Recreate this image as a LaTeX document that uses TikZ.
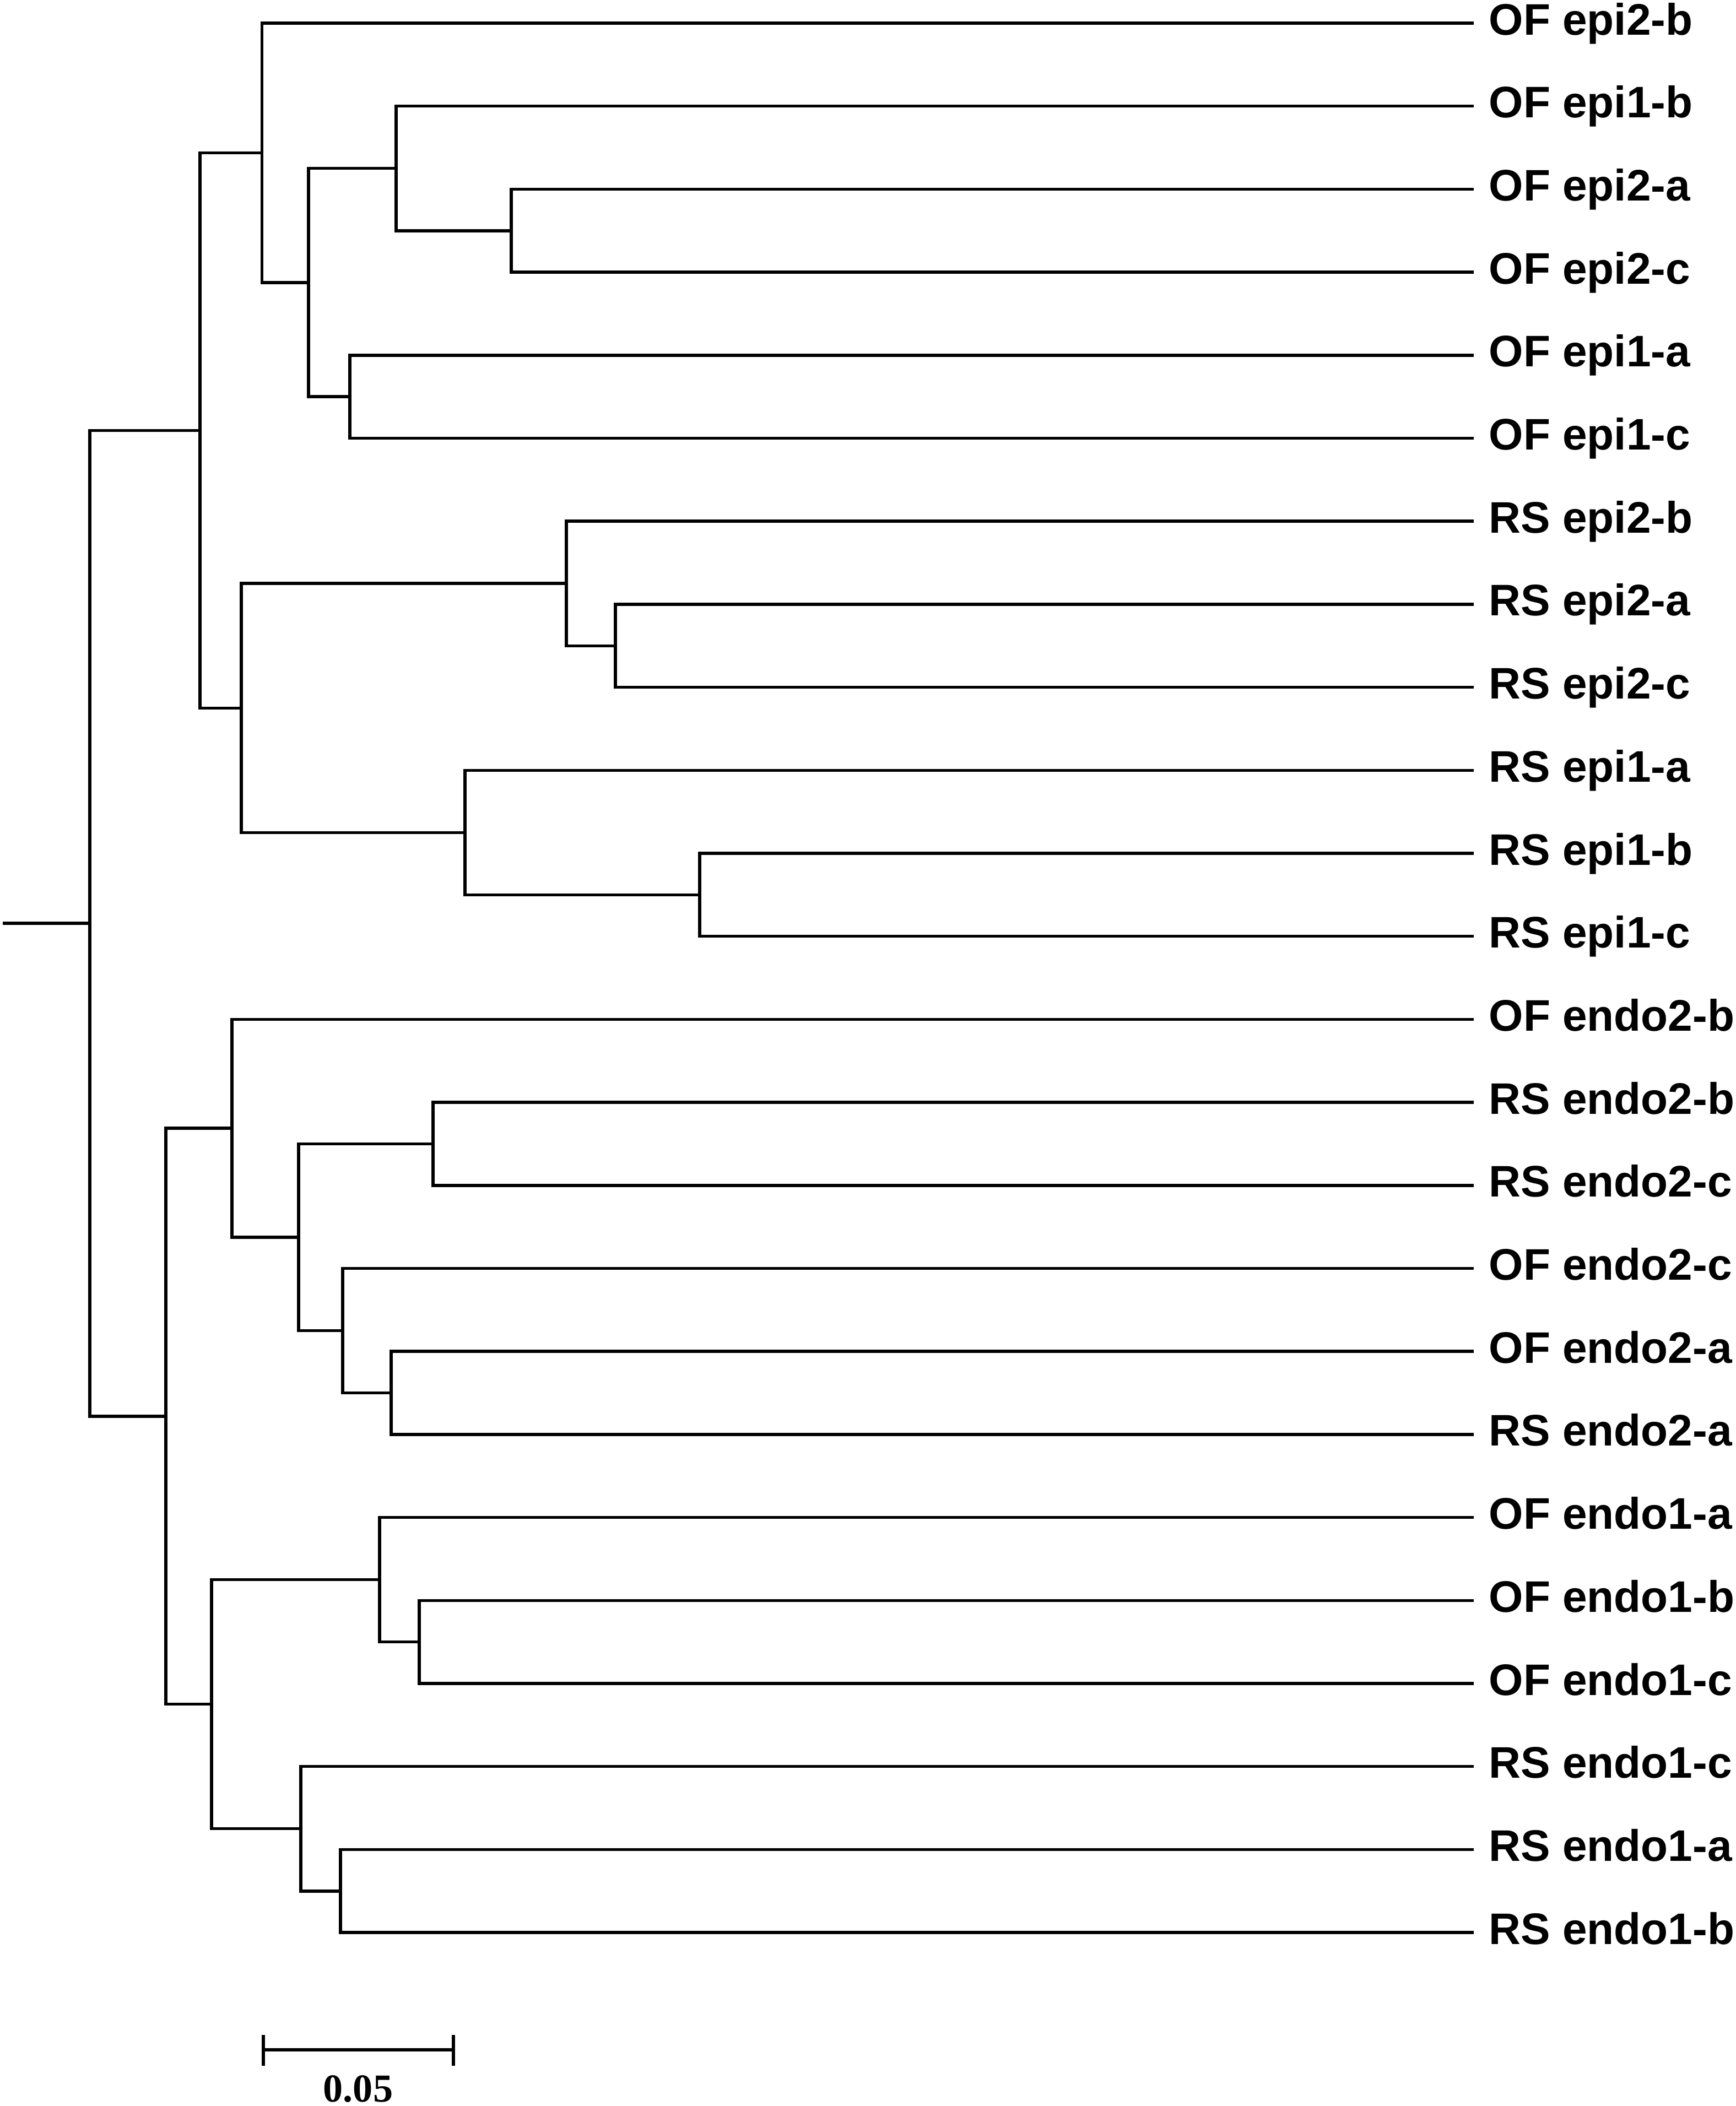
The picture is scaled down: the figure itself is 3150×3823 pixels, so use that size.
\documentclass[tikz,border=0pt]{standalone}
\usepackage{fontspec}
\setmainfont{Liberation Sans}
\newfontfamily\barlabfont{Liberation Serif}
\begin{document}
\begin{tikzpicture}[x=0.01cm,y=-0.01cm,
  branch/.style={draw=black,line width=0.055cm},
  leaflab/.style={anchor=base west,inner sep=0pt,font=\fontsize{22.8pt}{27pt}\selectfont\bfseries},
  barlab/.style={anchor=base,inner sep=0pt,font=\barlabfont\fontsize{20.5pt}{24pt}\selectfont\bfseries}]
\useasboundingbox (0,0) rectangle (3150,3823);
% leaves
\foreach \lab [count=\i from 0] in {OF epi2-b,OF epi1-b,OF epi2-a,OF epi2-c,OF epi1-a,OF epi1-c,RS epi2-b,RS epi2-a,RS epi2-c,RS epi1-a,RS epi1-b,RS epi1-c,OF endo2-b,RS endo2-b,RS endo2-c,OF endo2-c,OF endo2-a,RS endo2-a,OF endo1-a,OF endo1-b,OF endo1-c,RS endo1-c,RS endo1-a,RS endo1-b}{
  \coordinate (e\i) at ({2675},{42+150.7*\i});
  \node[leaflab] (L\i) at ({2702},{63+150.7*\i}) {\lab};
}
% internal nodes
\coordinate (a23) at (928,418.75);
\coordinate (a1) at (719,305.7);
\coordinate (a45) at (635,720.2);
\coordinate (aA) at (560,513);
\coordinate (aB) at (475.6,277.5);
\coordinate (a78) at (1117,1172.3);
\coordinate (a6) at (1028,1059.2);
\coordinate (a1011) at (1270,1624.4);
\coordinate (a9) at (844,1511.3);
\coordinate (aC) at (438,1285.3);
\coordinate (aD) at (363,781.4);
\coordinate (a1314) at (786,2076.5);
\coordinate (a1617) at (710,2528.6);
\coordinate (a15) at (622,2415.5);
\coordinate (aE) at (542,2246);
\coordinate (aF) at (421,2048.2);
\coordinate (a1920) at (761,2980.7);
\coordinate (a18) at (689,2867.6);
\coordinate (a2223) at (618,3432.8);
\coordinate (a21) at (546,3319.7);
\coordinate (aG) at (384,3093.7);
\coordinate (aH) at (301,2571);
\coordinate (root) at (163,1676.2);
\coordinate (stem) at (5,1676.2);
% branches
\draw[branch] (a23) |- (e2);   \draw[branch] (a23) |- (e3);
\draw[branch] (a1) |- (e1);    \draw[branch] (a1) |- (a23);
\draw[branch] (a45) |- (e4);   \draw[branch] (a45) |- (e5);
\draw[branch] (aA) |- (a1);    \draw[branch] (aA) |- (a45);
\draw[branch] (aB) |- (e0);    \draw[branch] (aB) |- (aA);
\draw[branch] (a78) |- (e7);   \draw[branch] (a78) |- (e8);
\draw[branch] (a6) |- (e6);    \draw[branch] (a6) |- (a78);
\draw[branch] (a1011) |- (e10); \draw[branch] (a1011) |- (e11);
\draw[branch] (a9) |- (e9);    \draw[branch] (a9) |- (a1011);
\draw[branch] (aC) |- (a6);    \draw[branch] (aC) |- (a9);
\draw[branch] (aD) |- (aB);    \draw[branch] (aD) |- (aC);
\draw[branch] (a1314) |- (e13); \draw[branch] (a1314) |- (e14);
\draw[branch] (a1617) |- (e16); \draw[branch] (a1617) |- (e17);
\draw[branch] (a15) |- (e15);  \draw[branch] (a15) |- (a1617);
\draw[branch] (aE) |- (a1314); \draw[branch] (aE) |- (a15);
\draw[branch] (aF) |- (e12);   \draw[branch] (aF) |- (aE);
\draw[branch] (a1920) |- (e19); \draw[branch] (a1920) |- (e20);
\draw[branch] (a18) |- (e18);  \draw[branch] (a18) |- (a1920);
\draw[branch] (a2223) |- (e22); \draw[branch] (a2223) |- (e23);
\draw[branch] (a21) |- (e21);  \draw[branch] (a21) |- (a2223);
\draw[branch] (aG) |- (a18);   \draw[branch] (aG) |- (a21);
\draw[branch] (aH) |- (aF);    \draw[branch] (aH) |- (aG);
\draw[branch] (root) |- (aD);  \draw[branch] (root) |- (aH);
\draw[branch] (stem) -- (root);
% scale bar
\coordinate (sbL) at (478,3721);
\coordinate (sbR) at (823,3721);
\draw[branch] (sbL) -- (sbR);
\draw[branch] (478,3694) -- (478,3750);
\draw[branch] (823,3694) -- (823,3750);
\node[barlab] (sblab) at (650,3815) {0.05};
\end{tikzpicture}
\end{document}
